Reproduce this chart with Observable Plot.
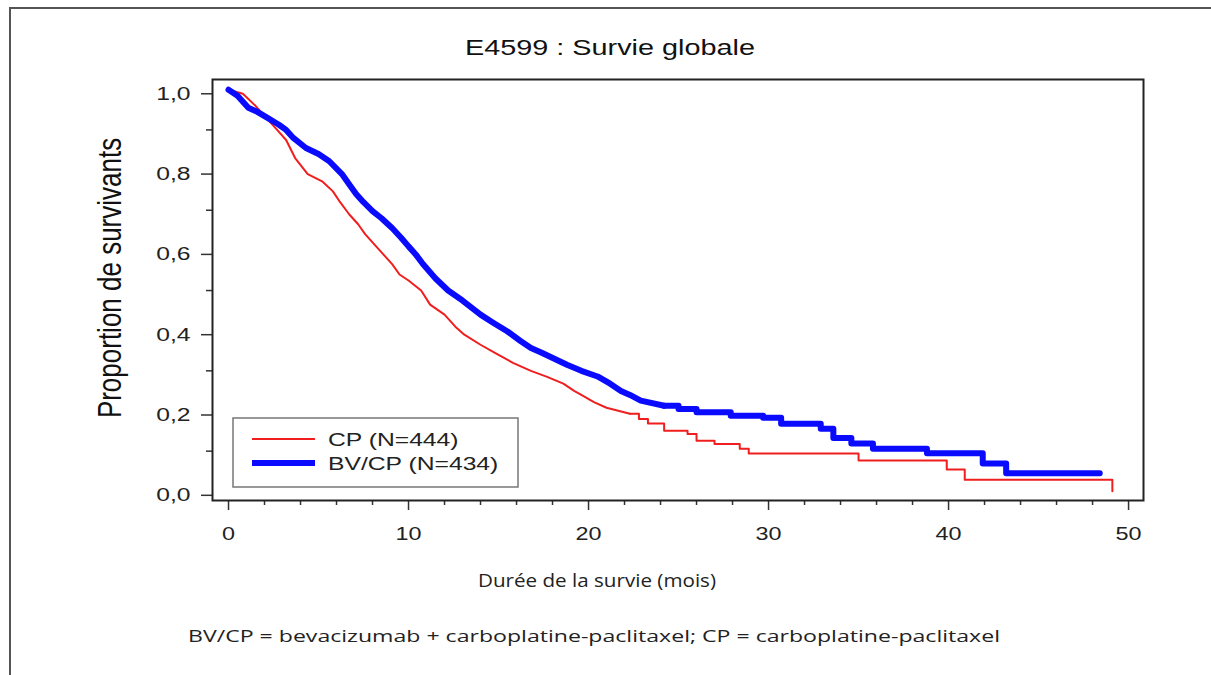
<!DOCTYPE html>
<html><head><meta charset="utf-8">
<script src="https://cdn.jsdelivr.net/npm/d3@7"></script>
<script src="https://cdn.jsdelivr.net/npm/@observablehq/plot@0.6"></script>
<style>
html,body{margin:0;padding:0;background:#fff;}
#wrap{position:relative;width:1211px;height:675px;overflow:hidden;background:#fff;}
#chart{position:absolute;left:0;top:0;}
#overlay{position:absolute;left:0;top:0;pointer-events:none;}
</style></head><body>
<div id="wrap"><div id="chart"></div><svg id="overlay" width="1211" height="675" xmlns="http://www.w3.org/2000/svg"></svg></div>
<script>
// ---- data ----
const cpTime = [0, 0.8, 1.5, 2.2, 2.7, 3.2, 3.7, 4.4, 5.2, 5.8, 6.2, 6.7, 7.2, 7.6, 8.1, 8.6, 9.1, 9.5, 10.0, 10.7, 11.2, 12.0, 12.6, 13.1, 14.0, 14.9, 15.8, 16.8, 17.7, 18.6, 19.2, 19.6, 20.3, 21.0, 22.3, 22.8, 23.3, 24.2, 25.5, 26.0, 27.0, 28.4, 28.9, 35.0, 39.9, 40.9, 49.1];
const cpSurv = [1.0, 0.99, 0.96, 0.925, 0.90, 0.875, 0.83, 0.79, 0.772, 0.747, 0.72, 0.69, 0.665, 0.64, 0.615, 0.59, 0.565, 0.54, 0.525, 0.50, 0.465, 0.44, 0.41, 0.39, 0.365, 0.342, 0.32, 0.30, 0.285, 0.268, 0.25, 0.24, 0.222, 0.208, 0.193, 0.18, 0.169, 0.151, 0.143, 0.126, 0.118, 0.106, 0.094, 0.077, 0.054, 0.029, 0.0];
const bvTime = [0, 0.5, 1.1, 1.6, 2.05, 2.8, 3.2, 3.6, 4.3, 5.0, 5.6, 6.3, 6.7, 7.1, 7.5, 8.0, 8.5, 9.1, 9.6, 10.0, 10.4, 10.8, 11.5, 12.2, 13.0, 14.0, 14.7, 15.5, 16.2, 16.8, 17.4, 18.1, 18.8, 19.6, 20.5, 21.2, 21.8, 22.3, 22.9, 24.2, 25.0, 26.0, 27.9, 29.7, 30.7, 32.9, 33.6, 34.6, 35.8, 38.8, 41.9, 43.2, 48.4];
const bvSurv = [1.0, 0.985, 0.955, 0.945, 0.933, 0.913, 0.90, 0.88, 0.855, 0.84, 0.822, 0.79, 0.765, 0.74, 0.72, 0.698, 0.68, 0.655, 0.631, 0.61, 0.59, 0.566, 0.53, 0.50, 0.475, 0.44, 0.42, 0.398, 0.375, 0.357, 0.345, 0.33, 0.315, 0.30, 0.286, 0.268, 0.25, 0.24, 0.226, 0.213, 0.205, 0.197, 0.188, 0.183, 0.168, 0.156, 0.133, 0.119, 0.106, 0.095, 0.069, 0.045, 0.045];
// beyond these times the events are sparse and the curve is drawn as visible steps
const cpStepFrom = 22.3;
const bvStepFrom = 24.2;
const seriesNames = ["CP (N=444)", "BV/CP (N=434)"];
const seriesColors = ["#f01e1e", "#0a0aff"];
const seriesWidths = [2, 6];
const yTicks = [0, 0.2, 0.4, 0.6, 0.8, 1.0];
const yMinorTicks = [0.1, 0.3, 0.5, 0.7, 0.9];
const xTicks = [0, 10, 20, 30, 40, 50];
const xMinorTicks = [2, 4, 6, 8, 12, 14, 16, 18, 22, 24, 26, 28, 32, 34, 36, 38, 42, 44, 46, 48];
const titleText = "E4599 : Survie globale";
const yLabelText = "Proportion de survivants";
const xLabelText = "Durée de la survie (mois)";
const captionText = "BV/CP = bevacizumab + carboplatine-paclitaxel; CP = carboplatine-paclitaxel";

const cp = cpTime.map((t, i) => ({t, s: cpSurv[i]}));
const bv = bvTime.map((t, i) => ({t, s: bvSurv[i]}));
const fmt = d => d.toFixed(1).replace(".", ",");

function curveMarks(data, from, i) {
  const opts = {x: "t", y: "s", stroke: seriesColors[i], strokeWidth: seriesWidths[i]};
  return [
    Plot.line(data.filter(d => d.t <= from), {...opts, curve: "linear"}),
    Plot.line(data.filter(d => d.t >= from), {...opts, curve: "step-after"})
  ];
}

const plot = Plot.plot({
  width: 1211, height: 675,
  marginLeft: 212, marginRight: 68, marginTop: 79, marginBottom: 175,
  x: {domain: [-0.89, 50.83]},
  y: {domain: [-0.0229, 1.0256]},
  style: {fontFamily: "'Liberation Sans', Arial, sans-serif", color: "#222", background: "transparent"},
  marks: [
    Plot.axisY(yTicks, {tickSize: 11, tickPadding: 11, tickFormat: fmt, fontSize: 19, dy: 4, label: null, stroke: "#333", strokeWidth: 1.5}),
    Plot.axisY(yMinorTicks, {tickSize: 6, tickFormat: () => "", label: null, stroke: "#333", strokeWidth: 1.5}),
    Plot.axisX(xTicks, {tickSize: 10, tickPadding: 17, fontSize: 18, label: null, stroke: "#333", strokeWidth: 1.5}),
    Plot.axisX(xMinorTicks, {tickSize: 5, tickFormat: () => "", label: null, stroke: "#333", strokeWidth: 1.5}),
    ...curveMarks(cp, cpStepFrom, 0),
    ...curveMarks(bv, bvStepFrom, 1),
    Plot.frame({stroke: "#222", strokeWidth: 2})
  ]
});
// horizontally widen tick labels like the reference
plot.querySelectorAll("text").forEach(t => {
  const tr = t.getAttribute("transform");
  if (tr) t.setAttribute("transform", tr + " scale(1.3,1)");
});
document.getElementById("chart").appendChild(plot);

// ---- overlay: border, title, labels, caption, legend ----
const ov = d3.select("#overlay");
ov.append("path").attr("d", "M10,675V8H1211").attr("fill", "none").attr("stroke", "#555").attr("stroke-width", 2);
ov.append("text").attr("x", 610).attr("y", 55).attr("text-anchor", "middle")
  .attr("font-family", "'Liberation Sans', Arial, sans-serif").attr("font-size", 22).attr("fill", "#111")
  .attr("textLength", 290).attr("lengthAdjust", "spacingAndGlyphs").text(titleText);
ov.append("text").attr("transform", "translate(121,278) scale(1.3,1) rotate(-90)").attr("text-anchor", "middle")
  .attr("font-family", "'Liberation Sans', Arial, sans-serif").attr("font-size", 26).attr("fill", "#111").text(yLabelText);
ov.append("text").attr("x", 478).attr("y", 587)
  .attr("font-family", "'Open Sans', 'Noto Sans', sans-serif").attr("font-size", 17.5).attr("fill", "#222")
  .attr("textLength", 238).attr("lengthAdjust", "spacingAndGlyphs").text(xLabelText);
ov.append("text").attr("x", 188).attr("y", 642)
  .attr("font-family", "'Open Sans', 'Noto Sans', sans-serif").attr("font-size", 17).attr("fill", "#222")
  .attr("textLength", 812).attr("lengthAdjust", "spacingAndGlyphs").text(captionText);
// legend
ov.append("rect").attr("x", 233).attr("y", 418).attr("width", 285).attr("height", 69)
  .attr("fill", "#fff").attr("stroke", "#777").attr("stroke-width", 1.5);
seriesNames.forEach((name, i) => {
  const yy = 439 + i * 24;
  ov.append("line").attr("x1", 252).attr("x2", 315).attr("y1", yy).attr("y2", yy)
    .attr("stroke", seriesColors[i]).attr("stroke-width", seriesWidths[i]);
  ov.append("text").attr("transform", `translate(328,${yy + 7}) scale(1.3,1)`)
    .attr("font-family", "'Liberation Sans', Arial, sans-serif").attr("font-size", 19).attr("fill", "#222").text(name);
});
</script>
</body></html>
